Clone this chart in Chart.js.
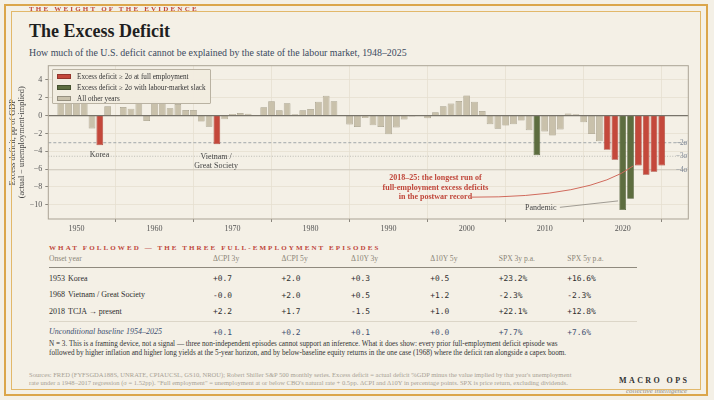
<!DOCTYPE html>
<html lang="en">

<head>
    <meta charset="UTF-8">
    <title>The Excess Deficit</title>
    <script src="https://cdn.jsdelivr.net/npm/chart.js@4.4.1/dist/chart.umd.min.js"></script>
    <style>
        html, body { margin: 0; padding: 0; }
        body {
            width: 714px; height: 400px; overflow: hidden; position: relative;
            background: #f4f0e6;
            font-family: 'Liberation Serif', 'DejaVu Serif', serif;
            color: #2b2b2b;
        }
        .abs { position: absolute; line-height: 1; white-space: nowrap; }
        .frame-out { position: absolute; left: 4px; top: 4px; width: 700px; height: 388px; border: 2px solid #dba64b; z-index: 5; pointer-events: none; }
        .frame-in { position: absolute; left: 11px; top: 11px; width: 688px; height: 377px; border: 1.2px solid #e2b86a; z-index: 5; pointer-events: none; }
        .kicker { left: 29px; top: 6px; font-size: 7px; font-weight: bold; letter-spacing: 2.2px; color: #c0473b; z-index: 6; }
        .title { left: 29px; top: 22px; font-size: 18px; font-weight: bold; color: #1f1f1f; }
        .sub { left: 29px; top: 47.6px; font-size: 9.9px; color: #3b4a5e; }
        #chart { position: absolute; left: 0; top: 0; z-index: 1; }
        .legend {
            position: absolute; left: 52px; top: 69px; width: 159px; height: 35px;
            border: 1px solid #b9b2a2; background: rgba(241, 236, 224, 0.96); z-index: 2;
            box-sizing: border-box; border-radius: 1px;
        }
        .legend div { position: absolute; left: 4px; font-size: 7.2px; line-height: 1; color: #333; white-space: nowrap; }
        .legend span.sw { display: inline-block; width: 14px; height: 5px; margin-right: 6px; vertical-align: 0px; box-sizing: border-box; border: 0.6px solid rgba(0,0,0,0.25); }
        .thead { top: 255.4px; font-size: 7.6px; color: #8b8577; }
        .sec { left: 49px; top: 245.2px; font-size: 7px; font-weight: bold; letter-spacing: 2.1px; color: #c0473b; }
        .cell { font-size: 8px; color: #2e2e2e; }
        .mono { font-family: 'DejaVu Sans Mono', monospace; font-size: 7.9px; color: #2e2e2e; }
        .base { color: #3d4f70; }
        .rule { position: absolute; left: 49px; width: 588px; }
        .note { left: 49px; font-size: 7.2px; color: #333; }
        .src { left: 29px; font-size: 6.55px; color: #a8a295; }
        .brand { left: 619px; top: 377.3px; font-size: 8px; font-weight: bold; letter-spacing: 2.4px; color: #333; }
        .tag { left: 626px; top: 388px; font-size: 7px; font-style: italic; color: #8e897e; }
    </style>
</head>

<body>
    <div class="frame-out"></div>
    <div class="frame-in"></div>

    <!-- header -->
    <div class="abs kicker">THE WEIGHT OF THE EVIDENCE</div>
    <div class="abs title">The Excess Deficit</div>
    <div class="abs sub">How much of the U.S. deficit cannot be explained by the state of the labour market, 1948–2025</div>

    <!-- chart -->
    <canvas id="chart" width="714" height="400"></canvas>
    <div class="legend">
        <div style="top:4.2px"><span class="sw" style="background:#c4483b"></span>Excess deficit ≥ 2σ at full employment</div>
        <div style="top:14.9px"><span class="sw" style="background:#5d6d3f"></span>Excess deficit ≥ 2σ with labour-market slack</div>
        <div style="top:25.6px"><span class="sw" style="background:#c9c1ab"></span>All other years</div>
    </div>

    <!-- table -->
    <div class="abs sec">WHAT FOLLOWED — THE THREE FULL-EMPLOYMENT EPISODES</div>
    <div id="table"></div>
    <div class="rule" style="top:267px; height:1px; background:#8f8a7e"></div>
    <div class="rule" style="top:320.5px; height:1px; background:#dcd6c8"></div>

    <div class="abs note" style="top:340.6px">N = 3. This is a framing device, not a signal — three non-independent episodes cannot support an inference. What it does show: every prior full-employment deficit episode was</div>
    <div class="abs note" style="top:349.9px">followed by higher inflation and higher long yields at the 5-year horizon, and by below-baseline equity returns in the one case (1968) where the deficit ran alongside a capex boom.</div>
    <div class="abs src" style="top:371.8px">Sources: FRED (FYFSGDA188S, UNRATE, CPIAUCSL, GS10, NROU); Robert Shiller S&amp;P 500 monthly series. Excess deficit = actual deficit %GDP minus the value implied by that year's unemployment</div>
    <div class="abs src" style="top:379.8px">rate under a 1948–2017 regression (σ = 1.52pp). "Full employment" = unemployment at or below CBO's natural rate + 0.5pp. ΔCPI and Δ10Y in percentage points. SPX is price return, excluding dividends.</div>
    <div class="abs brand">MACRO OPS</div>
    <div class="abs tag">collective intelligence</div>

    <script>
        // ---- data ----
        const years = [1948, 1949, 1950, 1951, 1952, 1953, 1954, 1955, 1956, 1957,
            1958, 1959, 1960, 1961, 1962, 1963, 1964, 1965, 1966, 1967,
            1968, 1969, 1970, 1971, 1972, 1973, 1974, 1975, 1976, 1977,
            1978, 1979, 1980, 1981, 1982, 1983, 1984, 1985, 1986, 1987,
            1988, 1989, 1990, 1991, 1992, 1993, 1994, 1995, 1996, 1997,
            1998, 1999, 2000, 2001, 2002, 2003, 2004, 2005, 2006, 2007,
            2008, 2009, 2010, 2011, 2012, 2013, 2014, 2015, 2016, 2017,
            2018, 2019, 2020, 2021, 2022, 2023, 2024, 2025];
        // excess deficit, pp of GDP
        const excess = [1.9, 1.6, 1.8, 1.5, -1.45, -3.33, 1.05, 0.02, 0.97, 0.78,
            1.5, -0.6, 1.6, 1.5, 0.82, 1.3, 0.63, 0.63, -0.67, -1.24,
            -3.2, -0.42, 0.19, 0.28, 0.22, 0.08, 0.93, 1.6, 0.6, 1.38,
            0.15, 0.6, 0.74, 1.56, 2.23, 1.6, -0.05, -1.0, -1.28, -0.28,
            -1.09, -1.27, -2.08, -1.32, -0.44, -0.1, -0.02, -0.3, 0.37, 1.05,
            1.35, 1.64, 2.27, 1.56, 0.52, -0.97, -1.48, -1.12, -0.97, -0.56,
            -1.64, -4.44, -1.79, -2.24, -1.56, 0.23, 0.15, -0.74, -2.06, -2.87,
            -3.84, -4.96, -10.6, -9.33, -5.6, -6.64, -6.3, -5.6];
        const fullEmploymentYears = [1953, 1968, 2018, 2019, 2022, 2023, 2024, 2025];
        const slackYears = [2009, 2020, 2021];
        const sigma = 1.52;
        const sigmaLevels = [2, 3, 4];
        const xTicks = [1950, 1960, 1970, 1980, 1990, 2000, 2010, 2020];
        const yTicks = [-10, -8, -6, -4, -2, 0, 2, 4];

        // table
        const colHeads = ['ΔCPI 3y', 'ΔCPI 5y', 'Δ10Y 3y', 'Δ10Y 5y', 'SPX 3y p.a.', 'SPX 5y p.a.'];
        const episodeYears = ['1953', '1968', '2018'];
        const episodeNames = ['Korea', 'Vietnam / Great Society', 'TCJA → present'];
        const korea = ['+0.7', '+2.0', '+0.3', '+0.5', '+23.2%', '+16.6%'];
        const vietnam = ['-0.0', '+2.0', '+0.5', '+1.2', '-2.3%', '-2.3%'];
        const tcja = ['+2.2', '+1.7', '-1.5', '+1.0', '+22.1%', '+12.8%'];
        const baseline = ['+0.1', '+0.2', '+0.1', '+0.0', '+7.7%', '+7.6%'];

        // ---- table build ----
        const colX = [213, 281.5, 351, 430.3, 498.7, 567.3];
        const tbl = document.getElementById('table');
        function cell(txt, x, y, cls, extra) {
            const d = document.createElement('div');
            d.className = 'abs ' + cls;
            d.style.left = x + 'px';
            d.style.top = y + 'px';
            if (extra) d.style.cssText += extra;
            d.textContent = txt;
            tbl.appendChild(d);
        }
        cell('Onset year', 49, 255.4, 'thead');
        colHeads.forEach((h, i) => cell(h, colX[i], 255.4, 'thead'));
        const rowTops = [274.6, 291.3, 307.6];
        [korea, vietnam, tcja].forEach((row, r) => {
            cell(episodeYears[r], 49, rowTops[r], 'cell');
            cell(episodeNames[r], 68, rowTops[r], 'cell');
            row.forEach((v, i) => cell(v, colX[i], rowTops[r] + 0.2, 'mono'));
        });
        cell('Unconditional baseline 1954–2025', 49, 328.3, 'cell base', 'font-style:italic;');
        baseline.forEach((v, i) => cell(v, colX[i], 328.5, 'mono base'));

        // ---- chart ----
        const RED = '#c4483b', GREEN = '#5d6d3f', GREY = '#c9c1ab';
        const points = years.map((yr, i) => ({ x: yr, y: excess[i] }));
        const fill = years.map(yr => fullEmploymentYears.includes(yr) ? RED : slackYears.includes(yr) ? GREEN : GREY);
        const edge = years.map(yr => fullEmploymentYears.includes(yr) ? '#a53a2f' : slackYears.includes(yr) ? '#4a5832' : '#a39c88');
        const serif = "'Liberation Serif', 'DejaVu Serif', serif";

        const decor = {
            id: 'decor',
            beforeDatasetsDraw(chart) {
                const { ctx, chartArea: a, scales: { y } } = chart;
                ctx.save();
                const styles = [
                    { c: '#9aa0a4', d: [3, 2], w: 0.9 },
                    { c: '#b3b3ad', d: [1, 1.6], w: 0.9 },
                    { c: '#c9c5ba', d: [], w: 0.9 }
                ];
                sigmaLevels.forEach((k, i) => {
                    const py = y.getPixelForValue(-k * sigma);
                    ctx.strokeStyle = styles[i].c;
                    ctx.lineWidth = styles[i].w;
                    ctx.setLineDash(styles[i].d);
                    ctx.beginPath();
                    ctx.moveTo(a.left, py);
                    ctx.lineTo(a.right, py);
                    ctx.stroke();
                });
                ctx.restore();
            },
            afterDatasetsDraw(chart) {
                const { ctx, chartArea: a, scales: { x, y } } = chart;
                const px = v => x.getPixelForValue(v), py = v => y.getPixelForValue(v);
                ctx.save();
                // zero line
                ctx.strokeStyle = '#77736a';
                ctx.lineWidth = 1.3;
                ctx.beginPath();
                ctx.moveTo(a.left, py(0));
                ctx.lineTo(a.right, py(0));
                ctx.stroke();
                // frame
                ctx.strokeStyle = '#aaa395';
                ctx.lineWidth = 1;
                ctx.strokeRect(a.left, a.top, a.right - a.left, a.bottom - a.top);

                // sigma labels
                ctx.fillStyle = '#7d8694';
                ctx.font = '7.3px ' + serif;
                ctx.textBaseline = 'middle';
                ctx.textAlign = 'left';
                sigmaLevels.forEach(k => ctx.fillText('−' + k + 'σ', px(2026.8), py(-k * sigma)));

                // episode labels
                ctx.fillStyle = '#444';
                ctx.font = '8px ' + serif;
                ctx.textAlign = 'center';
                ctx.fillText('Korea', px(1952.95), py(-4.43));
                ctx.fillText('Vietnam /', px(1967.9), py(-4.62));
                ctx.fillText('Great Society', px(1967.9), py(-5.66));
                ctx.fillText('Pandemic', px(2009.5), py(-10.31));

                // pandemic leader
                ctx.strokeStyle = '#8a877f';
                ctx.lineWidth = 0.8;
                ctx.beginPath();
                ctx.moveTo(px(2011.95), py(-10.29));
                ctx.lineTo(px(2019.4), py(-9.57));
                ctx.stroke();

                // 2018-25 callout
                ctx.fillStyle = '#c0473b';
                ctx.font = 'bold 8px ' + serif;
                ctx.fillText('2018–25: the longest run of', px(1996), py(-6.94));
                ctx.fillText('full-employment excess deficits', px(1996), py(-8.06));
                ctx.fillText('in the postwar record', px(1996), py(-9.14));
                ctx.strokeStyle = '#d06a5c';
                ctx.lineWidth = 1;
                ctx.beginPath();
                ctx.moveTo(px(2000.44), py(-9.15));
                ctx.quadraticCurveTo(px(2015.8), py(-9.23), px(2021.36), py(-5.64));
                ctx.stroke();
                ctx.restore();
            },
            afterDraw(chart) {
                const { ctx, chartArea: a } = chart;
                ctx.save();
                ctx.fillStyle = '#444';
                ctx.font = '8.3px ' + serif;
                ctx.textAlign = 'center';
                ctx.textBaseline = 'middle';
                const cy = (a.top + a.bottom) / 2;
                ctx.translate(13, cy);
                ctx.rotate(-Math.PI / 2);
                ctx.fillText('Excess deficit, pp of GDP', 0, 0);
                ctx.fillText('(actual − unemployment-implied)', 0, 9);
                ctx.restore();
            }
        };

        const tickFont = { family: serif, size: 8 };
        new Chart(document.getElementById('chart'), {
            type: 'bar',
            data: {
                datasets: [{
                    data: points,
                    backgroundColor: fill,
                    borderColor: edge,
                    borderWidth: 0.7,
                    barPercentage: 0.86,
                    categoryPercentage: 1.0
                }]
            },
            options: {
                responsive: false,
                animation: false,
                events: [],
                layout: { padding: { top: 65.7, right: 25.7, bottom: 165, left: 0 } },
                plugins: { legend: { display: false }, tooltip: { enabled: false } },
                scales: {
                    x: {
                        type: 'linear',
                        min: 1946.4,
                        max: 2028.4,
                        offset: false,
                        border: { display: false },
                        grid: { color: '#e6e0d0', lineWidth: 0.8, tickColor: '#6f6b62', tickLength: 3 },
                        ticks: { font: tickFont, color: '#555', padding: 2, callback: v => String(v) },
                        afterBuildTicks: s => { s.ticks = xTicks.map(v => ({ value: v })); },
                        afterFit: s => { s.height = 16; }
                    },
                    y: {
                        min: -11.6,
                        max: 5.6,
                        border: { display: false },
                        grid: { color: '#e6e0d0', lineWidth: 0.8, tickColor: '#6f6b62', tickLength: 3 },
                        ticks: { font: tickFont, color: '#555', padding: 3, callback: v => String(v).replace('-', '−') },
                        afterBuildTicks: s => { s.ticks = yTicks.map(v => ({ value: v })); },
                        afterFit: s => { s.width = 48.3; }
                    }
                }
            },
            plugins: [decor]
        });
    </script>
</body>

</html>
